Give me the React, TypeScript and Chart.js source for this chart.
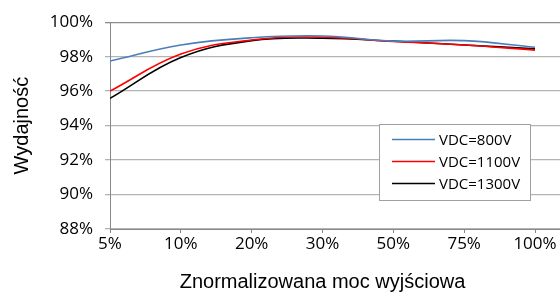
import React, { useEffect, useRef } from "react";
import { Chart, registerables } from "chart.js";

Chart.register(...registerables);

const categories = ["5%", "10%", "20%", "30%", "50%", "75%", "100%"];
const vdc800 = [97.75, 98.68, 99.1, 99.2, 98.9, 98.93, 98.55];
const vdc1100 = [96.0, 98.15, 98.97, 99.13, 98.88, 98.68, 98.38];
const vdc1300 = [95.58, 97.95, 98.93, 99.07, 98.9, 98.68, 98.45];
const seriesLabels = ["VDC=800V", "VDC=1100V", "VDC=1300V"];
const seriesColors = ["#4a7ebb", "#ff0000", "#000000"];
const yTicks = [88, 90, 92, 94, 96, 98, 100];
const yTitle = "Wydajność";
const xTitle = "Znormalizowana moc wyjściowa";

const TICK_FONT = '"Open Sans", sans-serif';
const TITLE_FONT = '"Liberation Sans", Arial, sans-serif';

const overlayPlugin = {
  id: "overlay",
  afterDraw(chart: any) {
    const { ctx, chartArea, scales } = chart;
    const xs = scales.x;
    ctx.save();
    // axis titles
    ctx.fillStyle = "#000";
    ctx.font = `20px ${TITLE_FONT}`;
    ctx.textAlign = "center";
    ctx.textBaseline = "middle";
    const xMid = (xs.getPixelForValue(0) + xs.getPixelForValue(categories.length - 1)) / 2;
    ctx.fillText(xTitle, xMid, 282);
    ctx.save();
    ctx.translate(22, (chartArea.top + chartArea.bottom) / 2);
    ctx.rotate(-Math.PI / 2);
    ctx.fillText(yTitle, 0, 0);
    ctx.restore();

    // legend box
    const bx = 379.5, by = 124.5, bw = 151, bh = 76;
    ctx.fillStyle = "#fff";
    ctx.fillRect(bx, by, bw, bh);
    ctx.strokeStyle = "#a0a0a0";
    ctx.lineWidth = 1;
    ctx.strokeRect(bx, by, bw, bh);
    ctx.font = `15px ${TICK_FONT}`;
    ctx.textAlign = "left";
    ctx.textBaseline = "middle";
    const rows = [139.5, 161.5, 183.5];
    seriesLabels.forEach((lab, i) => {
      ctx.strokeStyle = seriesColors[i];
      ctx.lineWidth = 1.5;
      ctx.beginPath();
      ctx.moveTo(392, rows[i]);
      ctx.lineTo(435, rows[i]);
      ctx.stroke();
      ctx.fillStyle = "#000";
      ctx.fillText(lab, 439, rows[i] + 1);
    });
    ctx.restore();
  },
};

export default function App() {
  const ref = useRef<HTMLCanvasElement>(null);
  useEffect(() => {
    if (!ref.current) return;
    const mk = (vals: number[]) => vals.map((y, i) => ({ x: i, y }));
    const chart = new Chart(ref.current, {
      type: "line",
      data: {
        datasets: [
          { label: seriesLabels[0], data: mk(vdc800), borderColor: seriesColors[0], backgroundColor: seriesColors[0], borderWidth: 1.6, pointRadius: 0, tension: 0.4, fill: false },
          { label: seriesLabels[1], data: mk(vdc1100), borderColor: seriesColors[1], backgroundColor: seriesColors[1], borderWidth: 1.6, pointRadius: 0, tension: 0.4, fill: false },
          { label: seriesLabels[2], data: mk(vdc1300), borderColor: seriesColors[2], backgroundColor: seriesColors[2], borderWidth: 1.6, pointRadius: 0, tension: 0.4, fill: false },
        ],
      },
      options: {
        animation: false,
        responsive: true,
        maintainAspectRatio: false,
        layout: { padding: { top: 22, left: 0, right: 0, bottom: 0 } },
        plugins: { legend: { display: false }, tooltip: { enabled: false } },
        scales: {
          x: {
            type: "linear",
            min: 0,
            max: 450 / (425 / 6),
            afterBuildTicks: (scale: any) => {
              scale.ticks = categories.map((_, i) => ({ value: i }));
            },
            afterFit: (scale: any) => {
              scale.height = 63;
            },
            ticks: {
              autoSkip: false,
              maxRotation: 0,
              padding: 1,
              color: "#000",
              font: { family: TICK_FONT, size: 17 },
              callback: (v: any) => categories[v] ?? "",
            },
            grid: { display: true, drawOnChartArea: false, drawTicks: true, tickLength: 4, color: "#888" },
            border: { display: true, color: "#888" },
          },
          y: {
            min: 88,
            max: 100,
            afterBuildTicks: (scale: any) => {
              scale.ticks = yTicks.map((v) => ({ value: v }));
            },
            afterFit: (scale: any) => {
              scale.width = 110;
            },
            ticks: {
              padding: 12,
              color: "#000",
              font: { family: TICK_FONT, size: 17 },
              callback: (v: any) => v + "%",
            },
            grid: {
              color: (c: any) => (c.tick && c.tick.value === 100 ? "#8c8c8c" : "#b4b4b4"),
              tickLength: 5,
              lineWidth: 1.3,
            },
            border: { display: true, color: "#888" },
          },
        },
      },
      plugins: [overlayPlugin],
    });
    return () => chart.destroy();
  }, []);
  return (
    <div style={{ position: "fixed", left: 0, top: 0, width: 560, height: 292, background: "#fff" }}>
      <canvas ref={ref} />
    </div>
  );
}
